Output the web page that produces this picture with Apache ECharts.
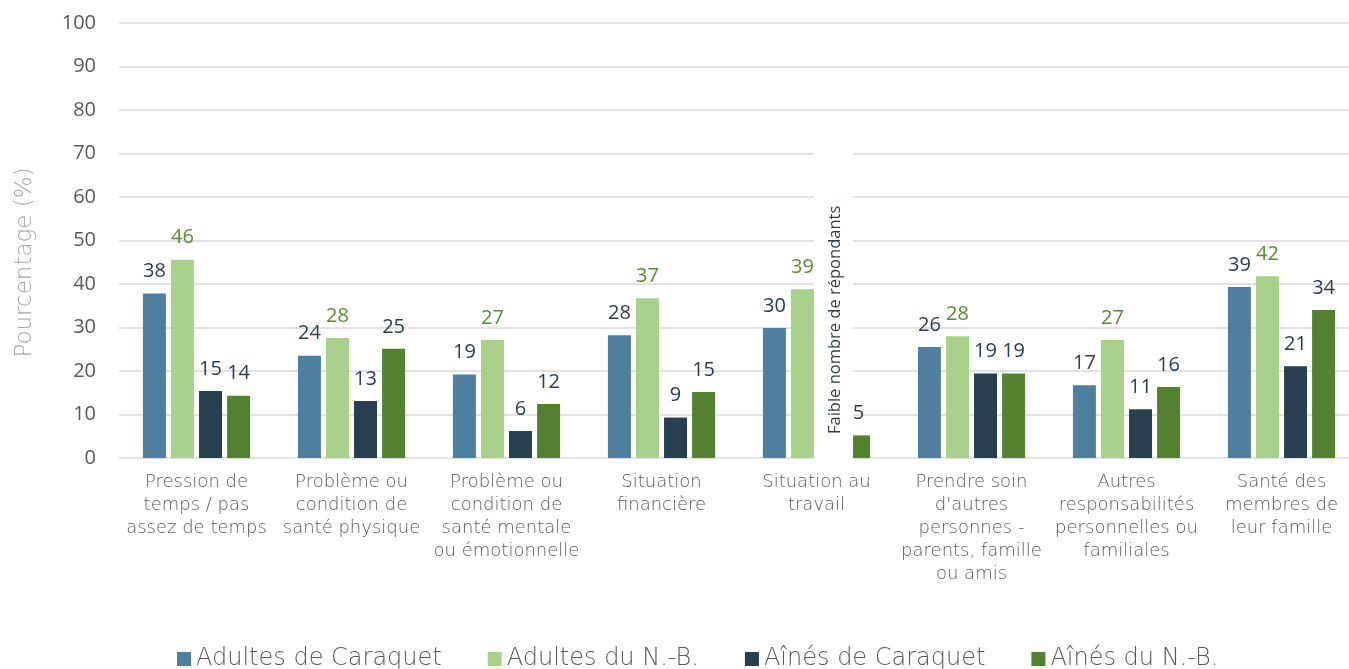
<!DOCTYPE html>
<html><head><meta charset="utf-8">
<script src="https://cdn.jsdelivr.net/npm/echarts@6/dist/echarts.min.js"></script>
<style>html,body{margin:0;padding:0;background:#fff}#c{width:1349px;height:669px}</style>
</head><body><div id="c"></div>
<script>
const categories = [
  "Pression de\ntemps / pas\nassez de temps",
  "Problème ou\ncondition de\nsanté physique",
  "Problème ou\ncondition de\nsanté mentale\nou émotionnelle",
  "Situation\nfinancière",
  "Situation au\ntravail",
  "Prendre soin\nd'autres\npersonnes -\nparents, famille\nou amis",
  "Autres\nresponsabilités\npersonnelles ou\nfamiliales",
  "Santé des\nmembres de\nleur famille"
];
const seriesNames = ["Adultes de Caraquet", "Adultes du N.-B.", "Aînés de Caraquet", "Aînés du N.-B."];
const adultesCaraquet = [37.8, 23.5, 19.2, 28.2, 29.9, 25.5, 16.7, 39.3];
const adultesNB       = [45.6, 27.6, 27.1, 36.7, 38.8, 28.0, 27.1, 41.8];
const ainesCaraquet   = [15.4, 13.1, 6.2, 9.3, null, 19.4, 11.2, 21.1];
const ainesNB         = [14.3, 25.1, 12.4, 15.2, 5.2, 19.4, 16.3, 34.0];
const yTicks = [0, 10, 20, 30, 40, 50, 60, 70, 80, 90, 100];
const noteText = "Faible nombre de répondants";
const noteCategory = 4;

const colors = ["#4f7f9f", "#aad18b", "#283f50", "#538130"];
const labelColors = ["#2b3e50", "#5b8a35", "#2b3e50", "#2b3e50"];
const values = [adultesCaraquet, adultesNB, ainesCaraquet, ainesNB];
const lightFont = "'DejaVu Sans', sans-serif";

const chart = echarts.init(document.getElementById('c'));
chart.setOption({
  animation: false,
  color: colors,
  grid: { left: 119, top: 23, width: 1240, height: 435, containLabel: false, outerBoundsMode: 'none' },
  legend: {
    bottom: -2, left: 177, padding: 0,
    itemWidth: 14, itemHeight: 14, itemGap: 46,
    icon: 'rect',
    textStyle: { fontSize: 24, color: '#595959', fontFamily: lightFont, fontWeight: 200 },
    data: seriesNames
  },
  xAxis: {
    type: 'category', data: categories,
    axisLine: { show: false }, axisTick: { show: false },
    axisLabel: { fontSize: 18, color: '#595959', fontFamily: lightFont, fontWeight: 200, lineHeight: 23, margin: 13, interval: 0 }
  },
  yAxis: {
    type: 'value', min: yTicks[0], max: yTicks[yTicks.length-1], interval: 10,
    name: 'Pourcentage (%)', nameLocation: 'middle', nameGap: 82,
    nameTextStyle: { fontSize: 23, color: '#a6a6a6', fontFamily: lightFont, fontWeight: 200, padding: [0, 44, 0, 0] },
    axisLabel: { fontSize: 20, color: '#595959', margin: 23, fontFamily: "'Open Sans', sans-serif" },
    splitLine: { lineStyle: { color: '#d9d9d9', width: 1.5 } }
  },
  series: seriesNames.map((n, i) => ({
    name: n, type: 'bar', data: values[i], barWidth: 23, barGap: '22%',
    label: {
      show: true, position: 'top', distance: 12,
      color: labelColors[i], fontSize: 20, fontFamily: "'Open Sans', sans-serif",
      formatter: p => (p.value == null ? '' : String(Math.round(p.value)))
    }
  }))
});

// annotation for missing bar
const topPt = chart.convertToPixel({ seriesIndex: 2 }, [noteCategory, 71]);
const botPt = chart.convertToPixel({ seriesIndex: 2 }, [noteCategory, -0.6]);
const layout = chart.getModel().getSeriesByIndex(2).getData().getItemLayout(noteCategory);
const cx = layout ? layout.x + layout.width / 2 + 3 : topPt[0] + 14;
const midY = (topPt[1] + botPt[1]) / 2;
chart.setOption({
  graphic: [
    { type: 'rect', z: 100, shape: { x: cx - 19.5, y: topPt[1], width: 39, height: botPt[1] - topPt[1] }, style: { fill: '#fff' } },
    { type: 'text', z: 101, x: cx + 2, y: midY + 15, rotation: Math.PI / 2,
      style: { text: noteText, fontSize: 16.5, fill: '#2b3e50', fontFamily: "'Open Sans', sans-serif", align: 'center', verticalAlign: 'middle' } }
  ]
});
</script></body></html>
